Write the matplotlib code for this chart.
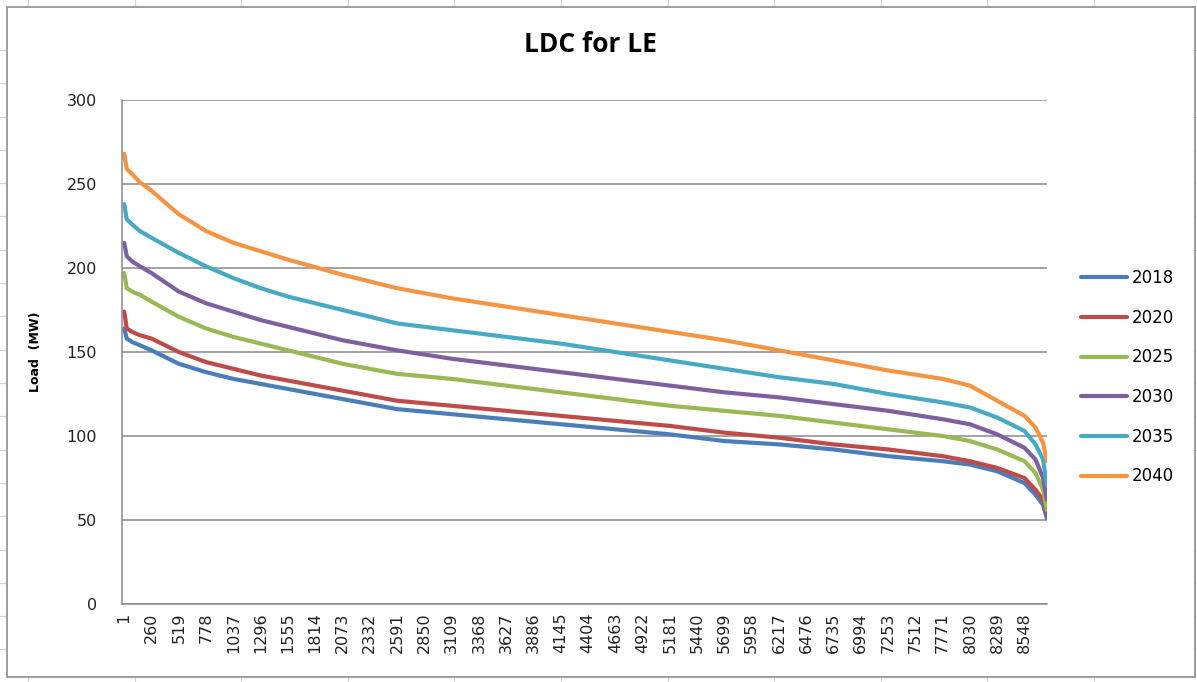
import matplotlib
matplotlib.use("Agg")
import matplotlib.pyplot as plt
from matplotlib.patches import Rectangle
import numpy as np

# hour rank (1..8760) at which the curves were read
hours = [1, 25, 75, 150, 260, 519, 778, 1037, 1296, 1555, 1814, 2073, 2332,
         2591, 3109, 3627, 4145, 4663, 5181, 5699, 6217, 6735, 7253, 7771,
         8030, 8289, 8548, 8653, 8725, 8760]

load_2018 = [164, 158, 156, 154, 151, 143, 138, 134, 131, 128, 125, 122, 119,
             116, 113, 110, 107, 104, 101, 97, 95, 92, 88, 85,
             83, 79, 72, 65, 59, 51]
load_2020 = [174, 164, 162, 160, 158, 150, 144, 140, 136, 133, 130, 127, 124,
             121, 118, 115, 112, 109, 106, 102, 99, 95, 92, 88,
             85, 81, 75, 68, 62, 54]
load_2025 = [197, 188, 186, 184, 180, 171, 164, 159, 155, 151, 147, 143, 140,
             137, 134, 130, 126, 122, 118, 115, 112, 108, 104, 100,
             97, 92, 85, 78, 68, 56]
load_2030 = [215, 207, 204, 201, 197, 186, 179, 174, 169, 165, 161, 157, 154,
             151, 146, 142, 138, 134, 130, 126, 123, 119, 115, 110,
             107, 101, 93, 86, 75, 62]
load_2035 = [238, 229, 226, 222, 218, 209, 201, 194, 188, 183, 179, 175, 171,
             167, 163, 159, 155, 150, 145, 140, 135, 131, 125, 120,
             117, 111, 103, 95, 86, 71]
load_2040 = [268, 259, 256, 251, 246, 232, 222, 215, 210, 205, 200.5, 196, 192,
             188, 182, 177, 172, 167, 162, 157, 151, 145, 139, 134,
             130, 121, 112, 105, 96, 85]

years = ["2018", "2020", "2025", "2030", "2035", "2040"]
series = [load_2018, load_2020, load_2025, load_2030, load_2035, load_2040]
colors = ["#4A7EBB", "#BE4B48", "#98B954", "#7D60A0", "#46AAC5", "#F59443"]

xtick_vals = list(range(1, 8761, 259))
ytick_vals = [0, 50, 100, 150, 200, 250, 300]

W, H = 1197, 682
fig = plt.figure(figsize=(W / 100, H / 100), dpi=100)

# spreadsheet grid behind the chart object
for gx in np.arange(28, W, 106.6):
    fig.add_artist(plt.Line2D([gx / W, gx / W], [0, 1], color="#d4d4d4",
                              lw=0.8, zorder=-3))
for gy in np.arange(50, H, 33.3):
    fig.add_artist(plt.Line2D([0, 1], [1 - gy / H, 1 - gy / H], color="#d4d4d4",
                              lw=0.8, zorder=-3))
fig.add_artist(Rectangle((7 / W, 1 - 677 / H), (1195 - 7) / W, (677 - 7) / H,
                         transform=fig.transFigure, facecolor="white",
                         edgecolor="#8c8c8c", lw=1.2, zorder=-2))

ax = fig.add_axes([122 / W, 1 - 604 / H, (1047 - 122) / W, (604 - 100) / H])
ax.set_facecolor("none")

for yr, vals, c in zip(years, series, colors):
    ax.plot(hours, vals, color=c, lw=3.0, label=yr, solid_capstyle="round",
            solid_joinstyle="round")

ax.set_xlim(-20, 8762)
ax.set_ylim(0, 300)
ax.set_yticks(ytick_vals)
ax.set_xticks(xtick_vals)
ax.set_xticklabels([str(v) for v in xtick_vals], rotation=90)
ax.tick_params(axis="both", length=0, labelsize=11.5, colors="#222222")
ax.tick_params(axis="y", pad=18)
ax.tick_params(axis="x", pad=6)
ax.grid(axis="y", color="#8a8a8a", lw=1.1)
ax.set_axisbelow(True)
for s in ["top", "right"]:
    ax.spines[s].set_visible(False)
for s in ["left", "bottom"]:
    ax.spines[s].set_color("#8a8a8a")
    ax.spines[s].set_linewidth(1.1)

ax.set_ylabel("Load  (MW)", fontsize=9, fontweight="bold", labelpad=18)

fig.text(590 / W, 1 - 45 / H, "LDC for LE", ha="center", va="center",
         fontsize=19, fontweight="bold", family="Open Sans")

ax.legend(loc="center left", bbox_to_anchor=(1.02, 0.45), frameon=False,
          fontsize=12, handlelength=2.8, handletextpad=0.3, labelspacing=1.3)

fig.savefig("out.png", dpi=100)
